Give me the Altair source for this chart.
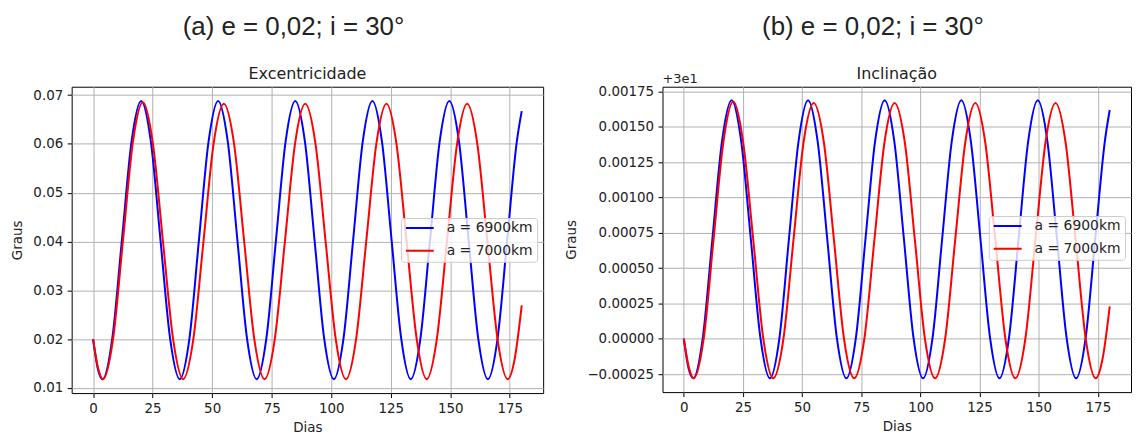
import altair as alt
import pandas as pd

# ---------------- data ----------------
series_labels = ["a = 6900km", "a = 7000km"]
series_colors = ["#0000ff", "#ff0000"]
big_titles = ["(a) e = 0,02; i = 30°", "(b) e = 0,02; i = 30°"]
panel_titles = ["Excentricidade", "Inclinação"]
offset_label = "+3e1"
x_label = "Dias"
y_label = "Graus"

x_ticks = [0, 25, 50, 75, 100, 125, 150, 175]
exc_ticks = [0.01, 0.02, 0.03, 0.04, 0.05, 0.06, 0.07]
inc_ticks = [-0.00025, 0.0, 0.00025, 0.0005, 0.00075, 0.001, 0.00125, 0.0015, 0.00175]

days_6900 = [0, 2, 4.0,
             8.05, 12.1, 16.15, 20.2,
             24.25, 28.3, 32.35, 36.4,
             40.45, 44.45, 48.5, 52.5,
             56.55, 60.6, 64.65, 68.7,
             72.75, 76.8, 80.85, 84.9,
             88.95, 93.0, 97.05, 101.1,
             105.15, 109.2, 113.25, 117.3,
             121.3, 125.35, 129.4, 133.4,
             137.45, 141.5, 145.55, 149.6,
             153.65, 157.7, 161.75, 165.8,
             169.85, 173.9, 177.95, 180]

exc_6900 = [0.0200, 0.0139, 0.0118,
            0.0201, 0.0403, 0.0605, 0.0688,
            0.0605, 0.0403, 0.0201, 0.0118,
            0.0201, 0.0403, 0.0605, 0.0688,
            0.0605, 0.0403, 0.0201, 0.0118,
            0.0201, 0.0403, 0.0605, 0.0688,
            0.0605, 0.0403, 0.0201, 0.0118,
            0.0201, 0.0403, 0.0605, 0.0688,
            0.0605, 0.0403, 0.0201, 0.0118,
            0.0201, 0.0403, 0.0605, 0.0688,
            0.0605, 0.0403, 0.0201, 0.0118,
            0.0201, 0.0403, 0.0605, 0.0667]

inc_6900 = [0.00000, -0.00021, -0.00028,
            0.00001, 0.00071, 0.00140, 0.00169,
            0.00140, 0.00071, 0.00001, -0.00028,
            0.00001, 0.00071, 0.00140, 0.00169,
            0.00140, 0.00071, 0.00001, -0.00028,
            0.00001, 0.00071, 0.00140, 0.00169,
            0.00140, 0.00071, 0.00001, -0.00028,
            0.00001, 0.00071, 0.00140, 0.00169,
            0.00140, 0.00071, 0.00001, -0.00028,
            0.00001, 0.00071, 0.00140, 0.00169,
            0.00140, 0.00071, 0.00001, -0.00028,
            0.00001, 0.00071, 0.00140, 0.00162]

days_7000 = [0, 2.1, 4.2,
             8.4, 12.55, 16.7, 20.9,
             25.1, 29.35, 33.6, 37.8,
             42.1, 46.35, 50.6, 54.9,
             59.2, 63.45, 67.7, 72.0,
             76.3, 80.55, 84.8, 89.1,
             93.4, 97.65, 101.9, 106.2,
             110.45, 114.7, 118.95, 123.2,
             127.4, 131.65, 135.9, 140.1,
             144.35, 148.6, 152.85, 157.1,
             161.35, 165.6, 169.85, 174.1,
             177.0, 180]

exc_7000 = [0.0200, 0.0141, 0.0118,
            0.0201, 0.0402, 0.0603, 0.0685,
            0.0601, 0.0400, 0.0200, 0.0118,
            0.0200, 0.0400, 0.0600, 0.0682,
            0.0600, 0.0400, 0.0200, 0.0118,
            0.0200, 0.0400, 0.0600, 0.0682,
            0.0600, 0.0400, 0.0200, 0.0118,
            0.0200, 0.0400, 0.0600, 0.0682,
            0.0600, 0.0400, 0.0200, 0.0118,
            0.0200, 0.0400, 0.0600, 0.0682,
            0.0600, 0.0400, 0.0200, 0.0118,
            0.0158, 0.0269]

inc_7000 = [0.00000, -0.00020, -0.00028,
            0.00000, 0.00070, 0.00139, 0.00168,
            0.00139, 0.00070, 0.00000, -0.00028,
            0.00000, 0.00070, 0.00139, 0.00167,
            0.00139, 0.00070, 0.00000, -0.00028,
            0.00000, 0.00070, 0.00139, 0.00167,
            0.00139, 0.00070, 0.00000, -0.00028,
            0.00000, 0.00070, 0.00139, 0.00167,
            0.00139, 0.00070, 0.00000, -0.00028,
            0.00000, 0.00070, 0.00139, 0.00167,
            0.00139, 0.00070, 0.00000, -0.00028,
            -0.00014, 0.00023]

# ---------------- styling ----------------
FONT = "DejaVu Sans"
TXT = "#222222"
x_domain = [-9, 189]


def make_df(da, va, db, vb):
    return pd.DataFrame({
        "Dias": list(da) + list(db),
        "Graus": list(va) + list(vb),
        "serie": [series_labels[0]] * len(da) + [series_labels[1]] * len(db),
    })


def panel(df, y_ticks, y_domain, y_fmt, sub_title, big_title, big_dx, w, h,
          lx, ly, extra=None):
    legend = alt.Legend(
        title=None, orient="none", legendX=lx, legendY=ly,
        symbolType="stroke", symbolSize=784, symbolStrokeWidth=2,
        clipHeight=12, rowPadding=9, padding=4, labelOffset=12,
        labelFont=FONT, labelFontSize=14, labelColor=TXT,
        fillColor="rgba(255,255,255,0.8)", strokeColor="#cccccc",
        cornerRadius=3,
    )
    lines = alt.Chart(df).mark_line(strokeWidth=2, interpolate="monotone").encode(
        x=alt.X("Dias:Q", scale=alt.Scale(domain=x_domain, nice=False, zero=False),
                axis=alt.Axis(values=x_ticks, format="d", title=x_label)),
        y=alt.Y("Graus:Q", scale=alt.Scale(domain=y_domain, nice=False, zero=False),
                axis=alt.Axis(values=y_ticks, format=y_fmt, title=y_label)),
        color=alt.Color("serie:N",
                        scale=alt.Scale(domain=series_labels, range=series_colors),
                        legend=legend),
    )
    sub = alt.Chart(pd.DataFrame({"t": [sub_title]})).mark_text(
        font=FONT, fontSize=16, color=TXT, align="center", baseline="alphabetic"
    ).encode(text="t:N", x=alt.value(w / 2), y=alt.value(-8))
    layers = [lines, sub]
    if extra:
        layers.append(
            alt.Chart(pd.DataFrame({"t": [extra]})).mark_text(
                font=FONT, fontSize=13, color=TXT, align="left", baseline="alphabetic"
            ).encode(text="t:N", x=alt.value(0), y=alt.value(-4))
        )
    return alt.layer(*layers).properties(
        width=w, height=h,
        title=alt.TitleParams(big_title, font="Liberation Sans", fontSize=26,
                              fontWeight="normal", color=TXT, anchor="middle",
                              frame="group", dx=big_dx, offset=26),
    )


p1 = panel(make_df(days_6900, exc_6900, days_7000, exc_7000),
           exc_ticks, [0.00895, 0.0717], ".2f", panel_titles[0], big_titles[0],
           -14, 474, 308, 331, 132)
p2 = panel(make_df(days_6900, inc_6900, days_7000, inc_7000),
           inc_ticks, [-0.000378, 0.001785], ".5f", panel_titles[1], big_titles[1],
           -24, 471, 307, 328, 130, extra=offset_label)

chart = alt.hconcat(p1, p2, spacing=20).resolve_scale(
    color="independent"
).resolve_legend(color="independent").properties(
    padding={"left": 2, "top": 4, "right": 2, "bottom": 2}
).configure_view(
    stroke="#000000", strokeWidth=1
).configure_axis(
    grid=True, gridColor="#b0b0b0", gridWidth=1, domain=False,
    tickColor="#000000", tickSize=4.5, tickWidth=1,
    labelFont=FONT, labelFontSize=13.5, labelColor=TXT, labelPadding=4.5,
    titleFont=FONT, titleFontSize=13.5, titleFontWeight="normal", titleColor=TXT,
).configure_axisY(titlePadding=8).configure_axisX(titlePadding=5)

chart.save("out.html", embed_options={"renderer": "svg", "actions": False})
